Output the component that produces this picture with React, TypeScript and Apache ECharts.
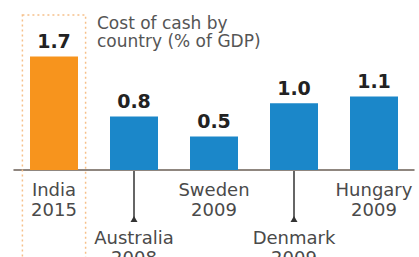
import React, { useEffect, useRef } from "react";
import * as echarts from "echarts";

const countries = ["India", "Australia", "Sweden", "Denmark", "Hungary"];
const years = ["2015", "2008", "2009", "2009", "2009"];
const costs = [1.7, 0.8, 0.5, 1.0, 1.1];
const lowered = [false, true, false, true, false];
const titleLines = ["Cost of cash by", "country (% of GDP)"];

const ORANGE = "#f7941d";
const BLUE = "#1b87c9";
const FONT = "DejaVu Sans";

export default function App() {
  const ref = useRef<HTMLDivElement>(null);
  useEffect(() => {
    document.body.style.margin = "0";
    const chart = echarts.init(ref.current!, null, { renderer: "svg" });
    const leaderData = countries.map((c, i) => [i, 0, lowered[i] ? 1 : 0]);
    chart.setOption({
      animation: false,
      backgroundColor: "#ffffff",
      grid: { left: 14, right: 5, top: 3, bottom: 87, containLabel: false, outerBoundsMode: "none" },
      xAxis: {
        type: "category",
        data: countries,
        axisLine: { lineStyle: { color: "#6b5f55", width: 1.5 } },
        axisTick: { show: false },
        axisLabel: {
          interval: 0,
          margin: 9,
          formatter: (v: string, i: number) =>
            lowered[i]
              ? `{gap| }\n{b|${v}}\n{b|${years[i]}}`
              : `{b|${v}}\n{b|${years[i]}}`,
          rich: {
            gap: { fontSize: 10, lineHeight: 48 },
            b: { fontFamily: FONT, fontSize: 18, lineHeight: 20, color: "#4a4a4a" },
          },
        },
      },
      yAxis: {
        type: "value",
        min: 0,
        max: 2.5,
        show: false,
        splitLine: { show: false },
      },
      graphic: [
        {
          type: "text",
          left: 97,
          top: 14,
          style: {
            text: titleLines.join("\n"),
            font: `17px "${FONT}"`,
            lineHeight: 18,
            fill: "#555555",
          },
        },
      ],
      series: [
        {
          type: "bar",
          barWidth: 48,
          data: costs.map((v, i) => ({
            value: v,
            itemStyle: { color: i === 0 ? ORANGE : BLUE },
          })),
          label: {
            show: true,
            position: "top",
            distance: 6,
            formatter: (p: any) => p.value.toFixed(1),
            fontFamily: FONT,
            fontWeight: "bold",
            fontSize: 19,
            color: "#222222",
          },
        },
        {
          type: "custom",
          silent: true,
          clip: false,
          data: [[0, 2.32]],
          renderItem: (params: any, api: any) => {
            const top = api.coord([api.value(0), api.value(1)]);
            const w = api.size([1, 0])[0] * 0.79;
            return {
              type: "rect",
              shape: { x: top[0] - w / 2, y: top[1], width: w, height: 300 },
              style: { fill: "none", stroke: "#f6c08a", lineWidth: 1.5, lineDash: [2, 3] },
              z2: -1,
            };
          },
        },
        {
          type: "custom",
          silent: true,
          clip: false,
          data: leaderData,
          renderItem: (params: any, api: any) => {
            if (!api.value(2)) return null;
            const p = api.coord([api.value(0), api.value(1)]);
            const x = p[0];
            const y0 = p[1] + 1;
            const y1 = p[1] + 51;
            return {
              type: "group",
              children: [
                {
                  type: "line",
                  shape: { x1: x, y1: y0, x2: x, y2: y1 },
                  style: { stroke: "#333333", lineWidth: 1.5 },
                },
                {
                  type: "polygon",
                  shape: { points: [[x, y1 - 5], [x - 3.5, y1 + 1], [x + 3.5, y1 + 1]] },
                  style: { fill: "#333333" },
                },
              ],
            };
          },
        },
      ],
    });
    return () => chart.dispose();
  }, []);
  return <div ref={ref} style={{ width: 419, height: 257 }} />;
}
